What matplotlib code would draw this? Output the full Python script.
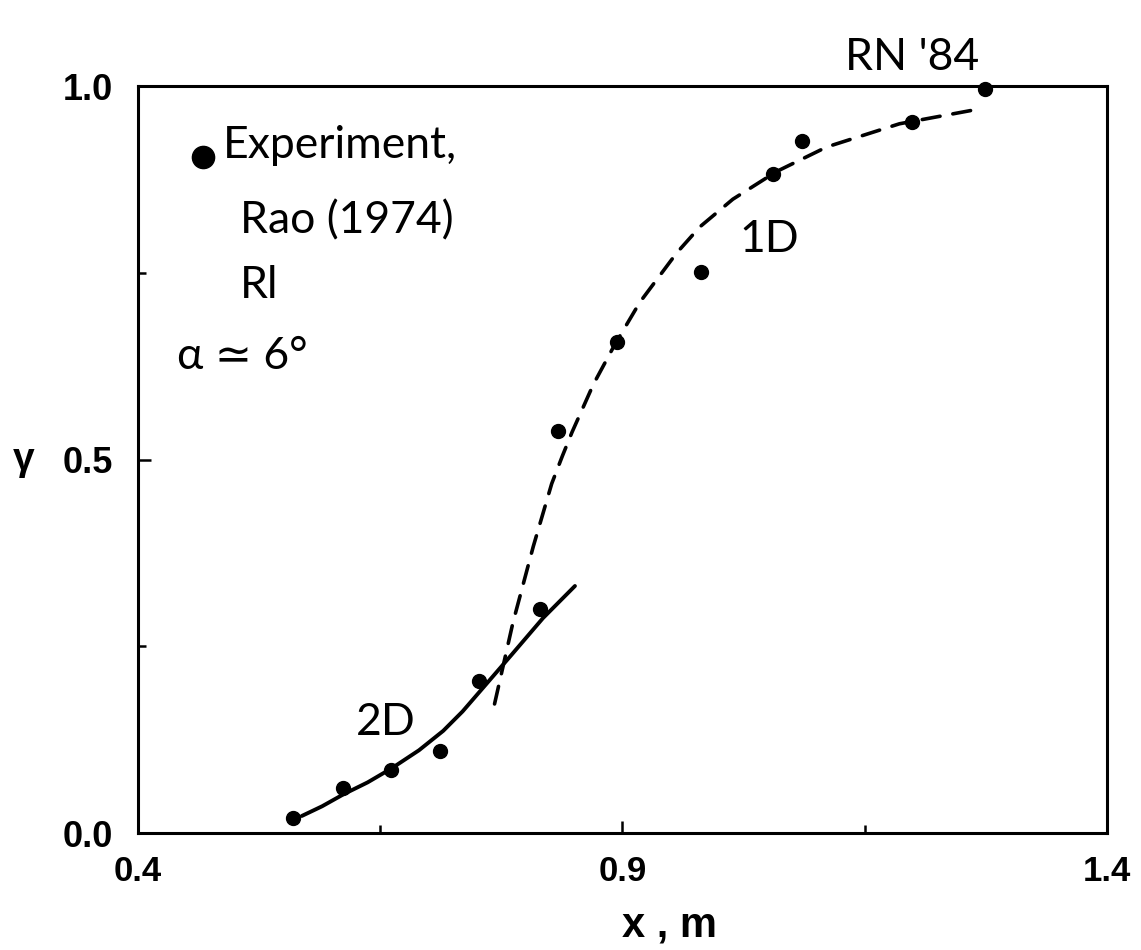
import matplotlib

matplotlib.use("Agg")
import matplotlib.pyplot as plt
from matplotlib.ticker import FixedLocator, NullFormatter

# Rao (1974) experiment, run R1
exp_x = [0.560, 0.612, 0.661, 0.712, 0.752, 0.815, 0.833, 0.894, 0.981, 1.055, 1.085, 1.199, 1.274]
exp_y = [0.020, 0.060, 0.085, 0.110, 0.204, 0.300, 0.538, 0.658, 0.751, 0.883, 0.927, 0.953, 0.996]

# 2D computation (solid)
x_2d = [0.569, 0.590, 0.612, 0.637, 0.662, 0.690, 0.715, 0.735, 0.753, 0.785, 0.818, 0.851]
y_2d = [0.023, 0.036, 0.052, 0.068, 0.087, 0.111, 0.137, 0.163, 0.190, 0.238, 0.288, 0.331]

# 1D computation (dashed)
x_1d = [0.768, 0.787, 0.808, 0.827, 0.838, 0.848, 0.870, 0.892, 0.918, 0.956, 0.980,
        1.014, 1.059, 1.111, 1.186, 1.269]
y_1d = [0.173, 0.282, 0.384, 0.468, 0.505, 0.537, 0.601, 0.654, 0.711, 0.777, 0.812,
        0.849, 0.886, 0.919, 0.950, 0.970]

x_ticks = [0.4, 0.9, 1.4]
x_minor = [0.65, 1.15]
y_ticks = [0.0, 0.5, 1.0]
y_minor = [0.25, 0.75]

HAND = ["Lato", "DejaVu Sans"]
SANS = ["Liberation Sans", "DejaVu Sans"]

plt.rcParams["font.family"] = SANS
plt.rcParams["xtick.labelsize"] = 25
plt.rcParams["ytick.labelsize"] = 26

fig = plt.figure(figsize=(11.41, 9.5), dpi=100)
ax = fig.add_axes([0.121, 0.123, 0.849, 0.786])

ax.plot(x_2d, y_2d, color="black", lw=2.8, solid_capstyle="round", solid_joinstyle="round")
dashed, = ax.plot(x_1d, y_1d, color="black", lw=2.6, dash_capstyle="round")
dashed.set_dashes((5.0, 3.6))
ax.plot(exp_x, exp_y, "o", color="black", ms=10, clip_on=False, zorder=5)

ax.set_xlim(0.4, 1.4)
ax.set_ylim(0.0, 1.0)
ax.xaxis.set_major_locator(FixedLocator(x_ticks))
ax.xaxis.set_minor_locator(FixedLocator(x_minor))
ax.yaxis.set_major_locator(FixedLocator(y_ticks))
ax.yaxis.set_minor_locator(FixedLocator(y_minor))
ax.xaxis.set_minor_formatter(NullFormatter())
ax.yaxis.set_minor_formatter(NullFormatter())
ax.tick_params(which="major", direction="in", length=9, width=1.8, pad=16)
ax.tick_params(which="minor", direction="in", length=6, width=1.8)
ax.tick_params(axis="y", which="major", pad=18)
for spine in ax.spines.values():
    spine.set_linewidth(2.2)

fig.canvas.draw()
for lab in ax.get_xticklabels() + ax.get_yticklabels():
    lab.set_fontweight("bold")

ax.set_xlabel("x , m", fontsize=30, fontweight="bold")
ax.xaxis.set_label_coords(0.549, -0.097)
ax.set_ylabel("γ", rotation=0, fontsize=28, fontweight="bold", va="center")
ax.yaxis.set_label_coords(-0.118, 0.5)

# annotations
ax.plot([0.467], [0.905], "o", color="black", ms=16)
ax.text(0.488, 0.904, "Experiment,", family=HAND, fontsize=32, va="baseline")
ax.text(0.505, 0.803, "Rao (1974)", family=HAND, fontsize=32, va="baseline")
ax.text(0.505, 0.717, "Rl", family=HAND, fontsize=32, va="baseline")
ax.text(0.440, 0.622, "α ≃ 6°", family=HAND, fontsize=32, va="baseline")
ax.text(1.021, 0.778, "1D", family=HAND, fontsize=32, va="baseline")
ax.text(0.625, 0.131, "2D", family=HAND, fontsize=32, va="baseline")
ax.text(1.130, 1.022, "RN '84", family=HAND, fontsize=32, va="baseline", clip_on=False)

fig.savefig("out.png", dpi=100, facecolor="white")
